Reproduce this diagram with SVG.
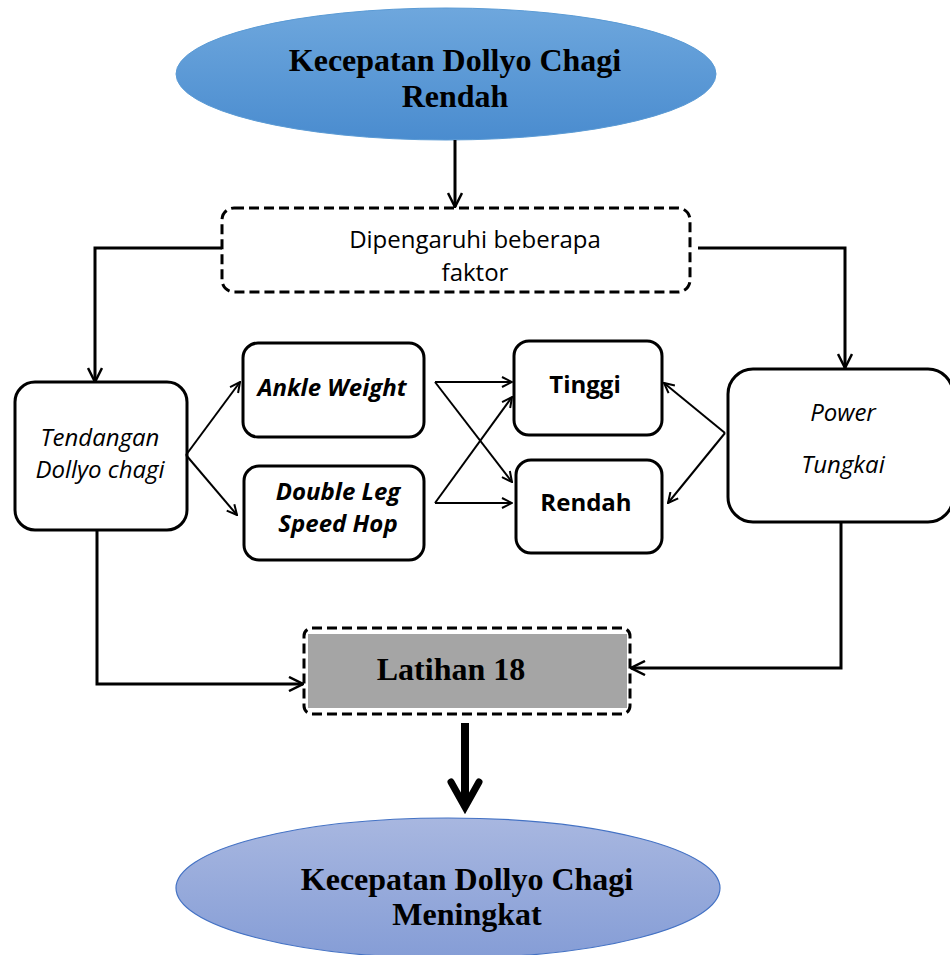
<svg xmlns="http://www.w3.org/2000/svg" width="950" height="955" viewBox="0 0 950 955">
<style>
.box{fill:#fff;stroke:#000;stroke-width:3}
.dash{fill:none;stroke:#000;stroke-width:3;stroke-dasharray:10 5}
.ln{fill:none;stroke:#000;stroke-width:3}
.thin{fill:none;stroke:#000;stroke-width:2}
.tnr{font-family:"Liberation Serif","Times New Roman",serif;font-weight:bold;font-size:32px;text-anchor:middle;fill:#000}
.sans{font-family:"Open Sans","Liberation Sans",sans-serif;font-size:24px;text-anchor:middle;fill:#000}
.it{font-style:italic}
.b{font-weight:bold}
</style>
<defs>
<linearGradient id="g1" x1="0" y1="0" x2="0" y2="1">
<stop offset="0" stop-color="#6ea7dd"/><stop offset="1" stop-color="#4a8ccf"/>
</linearGradient>
<linearGradient id="g2" x1="0" y1="0" x2="0" y2="1">
<stop offset="0" stop-color="#a8b7e0"/><stop offset="1" stop-color="#859dd6"/>
</linearGradient>
<marker id="ah" viewBox="0 0 12 12" refX="11" refY="6" markerWidth="12" markerHeight="12" markerUnits="userSpaceOnUse" orient="auto">
<path d="M1,1 L11,6 L1,11" fill="none" stroke="#000" stroke-width="2"/>
</marker>
<marker id="ah2" viewBox="0 0 16 16" refX="15" refY="8" markerWidth="16" markerHeight="16" markerUnits="userSpaceOnUse" orient="auto">
<path d="M1,1 L15,8 L1,15" fill="none" stroke="#000" stroke-width="2.5"/>
</marker>
</defs>

<g id="n-top">
<ellipse cx="446" cy="74" rx="270" ry="66" fill="url(#g1)" stroke="#5b9bd5" stroke-width="1"/>
<text class="tnr" x="455" y="71">Kecepatan Dollyo Chagi</text>
<text class="tnr" x="455" y="107">Rendah</text>
</g>

<g id="n-faktor">
<rect class="dash" x="222" y="208" width="468" height="84" rx="12"/>
<text class="sans" x="475" y="248" font-size="25">Dipengaruhi beberapa</text>
<text class="sans" x="475" y="281" font-size="25">faktor</text>
</g>

<g id="n-tendangan">
<rect class="box" x="15" y="382" width="172" height="148" rx="20"/>
<text class="sans it" x="100" y="446" font-size="26">Tendangan</text>
<text class="sans it" x="100" y="478" font-size="26">Dollyo chagi</text>
</g>

<g id="n-ankle">
<rect class="box" x="243" y="343" width="181" height="94" rx="15"/>
<text class="sans it b" x="332" y="396" font-size="21.5">Ankle Weight</text>
</g>

<g id="n-double">
<rect class="box" x="244" y="466" width="180" height="94" rx="15"/>
<text class="sans it b" x="338" y="500" font-size="20">Double Leg</text>
<text class="sans it b" x="338" y="532" font-size="20">Speed Hop</text>
</g>

<g id="n-tinggi">
<rect class="box" x="514" y="341" width="148" height="94" rx="15"/>
<text class="sans b" x="585" y="393">Tinggi</text>
</g>

<g id="n-rendah">
<rect class="box" x="516" y="460" width="146" height="93" rx="15"/>
<text class="sans b" x="586" y="511">Rendah</text>
</g>

<g id="n-power">
<rect class="box" x="728" y="369" width="225" height="153" rx="25"/>
<text class="sans it" x="843" y="421" font-size="26">Power</text>
<text class="sans it" x="843" y="473" font-size="26">Tungkai</text>
</g>

<g id="n-latihan">
<rect class="dash" x="304" y="628" width="326" height="86" rx="8"/>
<rect x="308" y="634" width="319" height="74" fill="#a5a5a5"/>
<text class="tnr" x="451" y="680" font-size="31">Latihan 18</text>
</g>

<g id="n-bottom">
<ellipse cx="448" cy="888" rx="272" ry="70" fill="url(#g2)" stroke="#4472c4" stroke-width="1.2"/>
<text class="tnr" x="467" y="890">Kecepatan Dollyo Chagi</text>
<text class="tnr" x="467" y="925">Meningkat</text>
</g>

<g id="connectors">
<line class="ln" x1="455" y1="140" x2="455" y2="207" marker-end="url(#ah2)"/>
<polyline class="ln" points="222,248 95,248 95,382" marker-end="url(#ah2)"/>
<polyline class="ln" points="698,248 845,248 845,368" marker-end="url(#ah2)"/>
<line class="thin" x1="186" y1="455" x2="240" y2="382" marker-end="url(#ah)"/>
<line class="thin" x1="186" y1="455" x2="237" y2="515" marker-end="url(#ah)"/>
<line class="thin" x1="435" y1="382" x2="512" y2="382" marker-end="url(#ah)"/>
<line class="thin" x1="435" y1="382" x2="512" y2="482" marker-end="url(#ah)"/>
<line class="thin" x1="435" y1="503" x2="512" y2="503" marker-end="url(#ah)"/>
<line class="thin" x1="435" y1="503" x2="512" y2="397" marker-end="url(#ah)"/>
<line class="thin" x1="725" y1="433" x2="664" y2="383" marker-end="url(#ah)"/>
<line class="thin" x1="725" y1="433" x2="668" y2="503" marker-end="url(#ah)"/>
<polyline class="ln" points="97,530 97,684 303,684" marker-end="url(#ah2)"/>
<polyline class="ln" points="841,522 841,668 631,668" marker-end="url(#ah2)"/>
<line x1="465" y1="723" x2="465" y2="805" stroke="#000" stroke-width="8"/>
<polyline points="451,782 465,807 479,782" fill="none" stroke="#000" stroke-width="7" stroke-linecap="round" stroke-linejoin="miter"/>
</g>
</svg>
